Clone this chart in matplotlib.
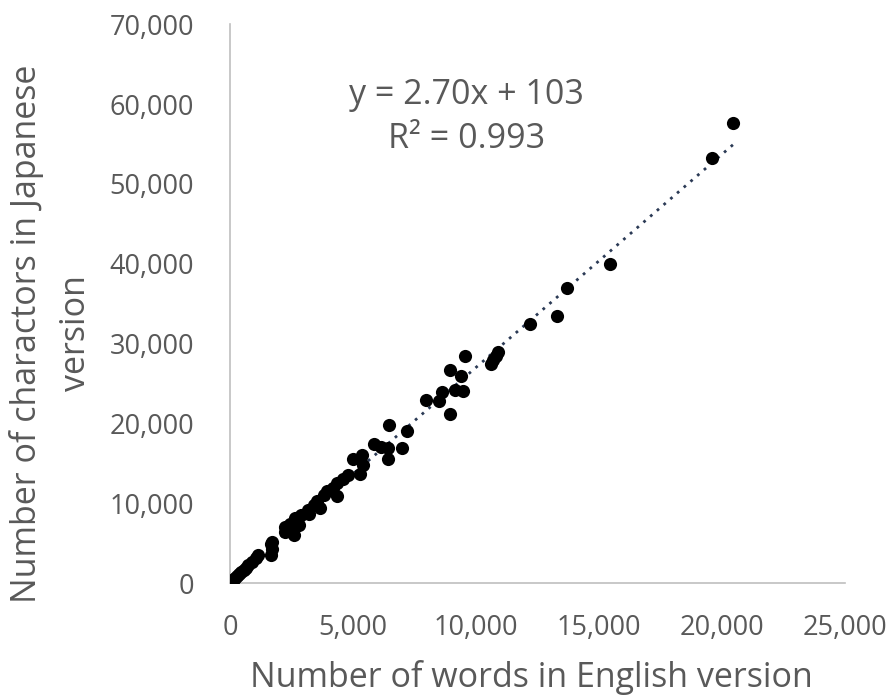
#!/usr/bin/env python3
"""
Scatter of English word counts vs Japanese character counts, with linear trendline.
"""

import numpy as np
import matplotlib
matplotlib.use('Agg')
import matplotlib.pyplot as plt
from matplotlib.ticker import FuncFormatter

# Words in English version
words_en = [150, 200, 280, 350, 450, 550, 650, 750, 900, 1050, 1150, 1650, 1700, 1650,
            1700, 2250, 2600, 2250, 2450, 2800, 2650, 2900, 3200, 3150, 3400, 3650, 3550,
            3800, 3950, 4200, 4350, 4350, 4600, 4800, 5300, 5400, 5000, 5350, 5850, 6150,
            6400, 6400, 6450, 7000, 7200, 7950, 8500, 8600, 8950, 9150, 9450, 8950, 9400,
            9550, 10600, 10700, 10800, 10900, 12200, 13300, 13700, 15450, 19600, 20450]

# Characters in Japanese version
chars_ja = [500, 700, 900, 1100, 1400, 1650, 1900, 2250, 2600, 3100, 3500, 3500, 4300, 4900,
            5200, 6400, 6000, 7000, 7400, 7300, 8200, 8500, 8600, 9200, 9800, 9400, 10300,
            11000, 11600, 11900, 10900, 12500, 13100, 13500, 13700, 14800, 15600, 16000, 17400, 17000,
            16900, 15600, 19800, 16900, 19100, 22900, 22800, 23900, 21200, 24200, 24100, 26700, 26000,
            28400, 27400, 27900, 28500, 28900, 32400, 33400, 37000, 40000, 53200, 57700]

x_ticks = [0, 5000, 10000, 15000, 20000, 25000]
y_ticks = [0, 10000, 20000, 30000, 40000, 50000, 60000, 70000]

eq_text = 'y = 2.70x + 103'
r2_text = 'R² = 0.993'

plt.rcParams['font.family'] = ['Open Sans', 'DejaVu Sans']
gray = '#595959'

x = np.array(words_en, dtype=float)
y = np.array(chars_ja, dtype=float)

fig = plt.figure(figsize=(8.88, 6.95), dpi=100)
ax = fig.add_axes([0.259, 0.161, 0.693, 0.804])

# Points
ax.scatter(x, y, s=90, color='black', zorder=3, linewidths=0)

# Linear trendline across the data range
slope, intercept = np.polyfit(x, y, 1)
xs = np.array([x.min(), x.max()])
ax.plot(xs, slope * xs + intercept, linestyle=(0, (1, 2.2)), color='#2b3a55',
        linewidth=2.0, zorder=2)

ax.set_xlim(0, 25000)
ax.set_ylim(0, 70000)
ax.set_xticks(x_ticks)
ax.set_yticks(y_ticks)
fmt = FuncFormatter(lambda v, p: f'{int(v):,}')
ax.xaxis.set_major_formatter(fmt)
ax.yaxis.set_major_formatter(fmt)

ax.tick_params(axis='both', length=0, labelsize=19.5, labelcolor=gray)
ax.tick_params(axis='x', pad=22)
ax.tick_params(axis='y', pad=26)

for side in ['top', 'right']:
    ax.spines[side].set_visible(False)
for side in ['left', 'bottom']:
    ax.spines[side].set_color('#bfbfbf')
    ax.spines[side].set_linewidth(1.2)

ax.set_xlabel('Number of words in English version', fontsize=24.5, color=gray)
ax.xaxis.set_label_coords(0.49, -0.137)
ax.set_ylabel('Number of charactors in Japanese\nversion', fontsize=24.5, color=gray,
              linespacing=1.6)
ax.yaxis.set_label_coords(-0.222, 0.447)

# Trendline equation
ax.text(0.384, 0.874, eq_text, transform=ax.transAxes, ha='center', va='center',
        fontsize=24.5, color=gray)
ax.text(0.384, 0.795, r2_text, transform=ax.transAxes, ha='center', va='center',
        fontsize=24.5, color=gray)

plt.savefig('out.png', dpi=100)
